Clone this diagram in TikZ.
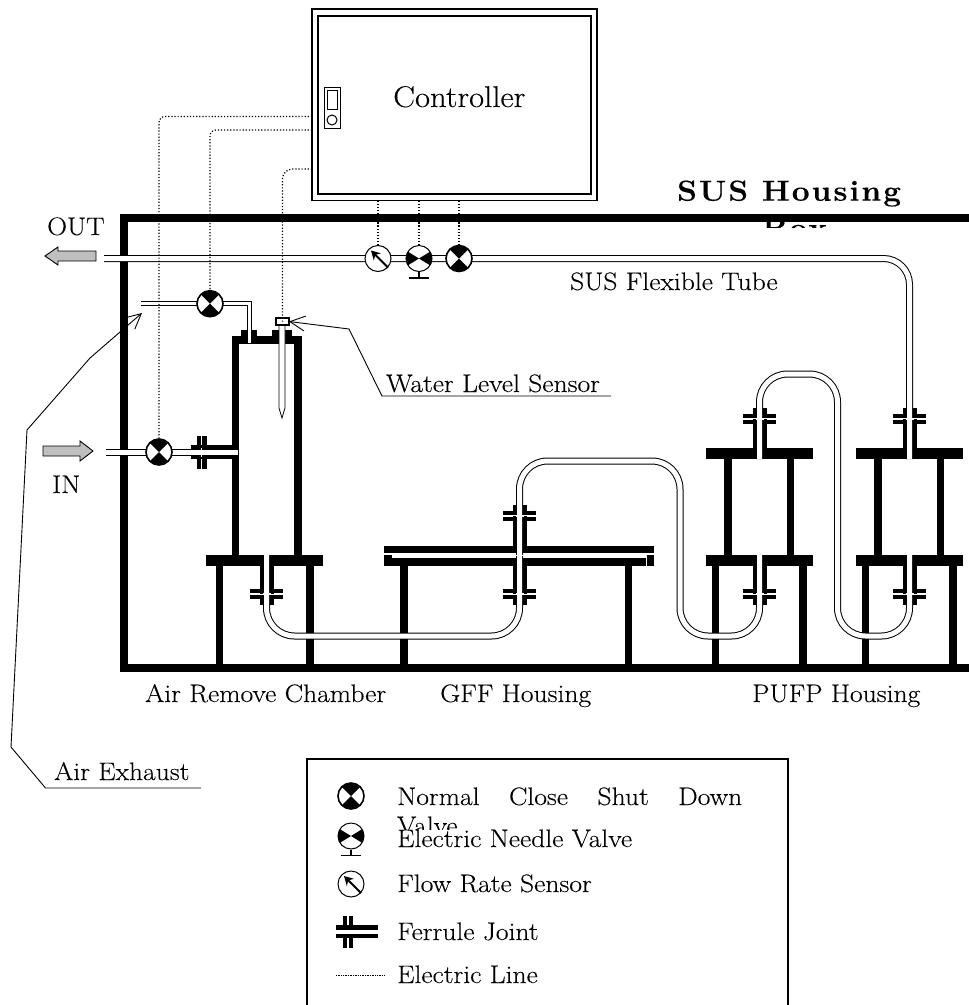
\documentclass[tikz,border=0pt]{standalone}
\usepackage{fontspec}
\setmainfont{Latin Modern Roman}[FakeStretch=1.09,FakeBold=.2]
\usetikzlibrary{arrows.meta}
\tikzset{
  lbl/.style={anchor=base west,inner sep=0pt,font=\fontsize{25.3}{28}\selectfont},
  tube/.style={draw=black,line width=1pt,double=white,double distance=5pt,rounded corners=28pt},
  thintube/.style={draw=black,line width=.9pt,double=white,double distance=3pt},
  wall/.style={line width=8pt},
  elec/.style={line width=1.2pt,dash pattern=on 1.2pt off 1.9pt},
  leader/.style={line width=.9pt,-{Straight Barb[length=15pt,width=15pt]}},
  flowarrow/.style={draw,line width=.9pt,fill=black!25},
  shutvalve/.style={circle,draw,line width=1.6pt,fill=white,minimum size=26pt,inner sep=0pt,
    path picture={\fill[black] (path picture bounding box.north west) -- (path picture bounding box.north east)
      -- (path picture bounding box.south west) -- (path picture bounding box.south east) -- cycle;}},
  needlevalve/.style={circle,draw,line width=1pt,fill=white,minimum size=26pt,inner sep=0pt,
    path picture={\fill[black] (path picture bounding box.center) -- ++(-13,-8) -- ++(0,16) -- cycle;
      \fill[black] (path picture bounding box.center) -- ++(13,-8) -- ++(0,16) -- cycle;}},
  flowsensor/.style={circle,draw,line width=1pt,fill=white,minimum size=26pt,inner sep=0pt},
  ferrule/.pic={
    \fill (-16.5,-5) rectangle (16.5,-.8);
    \fill (-16.5,.8) rectangle (16.5,5);
    \fill (-7,-11) rectangle (7,-.8);
    \fill (-7,.8) rectangle (7,11);
  }
}
\begin{document}
\begin{tikzpicture}[x=1pt,y=-1pt]
  \useasboundingbox (0,0) rectangle (969,1005);
  %Boitier
  \draw[wall] (969,217.5) -- (123.5,217.5) -- (123.5,667.5) -- (969,667.5);
  %Chambre et pieds
  \foreach \a/\b/\c/\d in {232/336/239/555,294/336/302/555,232/336/302/344,241/330/257/336,272/330/292/336,
    206/555/323/566,216/566/223/664,306/566/314/664,
    384/545.7/654/552.7,392/557.7/646/565.7,384/554.7/392/565.7,646.7/554.7/654/565.7,400/566/407.7/664,625/566/631.7/664,
    705.7/555/812.7/566,711.7/566/719.3/664,799.3/566/806.7/664,724/459/731.7/555,786.7/459/794.3/555,705.7/448/812.7/459,
    855.7/555/962.7/566,861.7/566/869/664,949/566/956.7/664,874/459/881.7/555,936.7/459/944/555,855.7/448/962.7/459,
    191/445/232/449,191/455/232/459}
    \fill (\a,\b) rectangle (\c,\d);
  %Raccords
  \foreach \x/\y in {266.5/594,519.5/594,519.5/516,759.5/594,909.5/594,759.5/419,909.5/419}
    \pic at (\x,\y) {ferrule};
  \foreach \x/\y/\z in {266.5/566/594,519.5/566/594,519.5/516/546,759.5/566/594,909.5/566/594,759.5/419/448,909.5/419/448}
    \fill (\x-7,\y) rectangle (\x+7,\z);
  \pic[rotate=90] at (201.5,452) {ferrule};
  %Tubes
  \coordinate (pVOut) at (459,258.5);
  \coordinate (pNOut) at (419,258.5);
  \coordinate (pFOut) at (378,258.5);
  \coordinate (pVIn) at (159,452);
  \coordinate (pVAir) at (210,303.7);
  \coordinate (tOutL) at (104,258.5);
  \coordinate (tInL) at (106,452);
  \coordinate (tInR) at (238,452);
  \coordinate (tAirL) at (141,303.7);
  \coordinate (tAirR) at (249.5,343);
  \draw[tube,rounded corners=26pt] (tOutL) -- (909.5,258.5) -- (909.5,459);
  \draw[tube] (266.5,555) -- (266.5,636) -- (519.5,636) -- (519.5,461) -- (680,461) -- (680,636) -- (759.5,636) -- (759.5,555);
  \draw[tube] (759.5,459) -- (759.5,374) -- (837.5,374) -- (837.5,636) -- (909.5,636) -- (909.5,555);
  \draw[tube] (tInL) -- (tInR);
  \draw[thintube] (tAirL) -- (tAirR |- tAirL) -- (tAirR);
  \foreach \x/\y in {266.5/594,519.5/594,519.5/516,759.5/594,909.5/594,759.5/419,909.5/419,519.5/555.2}
    \draw[white,line width=1.4pt] (\x-4,\y) -- (\x+4,\y);
  \draw[white,line width=1.4pt] (201.5,447.5) -- (201.5,456.5);
  %Sonde de niveau
  \draw[line width=.8pt,fill=white] (279,325) -- (279,408) -- (282,418) -- (285,408) -- (285,325);
  \node[draw,line width=1.2pt,fill=white,minimum width=13pt,minimum height=7pt,inner sep=0pt,outer sep=0pt] (WLS) at (282.5,321.5) {};
  %Vannes
  \node[shutvalve] (VOut) at (pVOut) {};
  \node[needlevalve] (NOut) at (pNOut) {};
  \node[flowsensor] (FOut) at (pFOut) {};
  \node[shutvalve] (VIn) at (pVIn) {};
  \node[shutvalve] (VAir) at (pVAir) {};
  \node[shutvalve] (VLeg) at (351,796) {};
  \node[needlevalve] (NLeg) at (351,836) {};
  \node[flowsensor] (FLeg) at (351,884) {};
  \foreach \n in {NOut,NLeg}
    \draw[line width=1.5pt] (\n.south) -- ++(0,6) ++(-10,0) -- ++(20,0);
  \foreach \n in {FOut,FLeg}
    \draw[line width=2pt,-{Stealth[length=9pt,width=10pt]}] (\n.center) ++(10,9) -- ++(-17,-17);
  %Controleur
  \node[draw,line width=1.5pt,minimum width=285pt,minimum height=191.7pt,inner sep=0pt,outer sep=0pt] (Ctrl) at (454.5,104.8) {};
  \node[draw,line width=2pt,minimum width=273pt,minimum height=178pt,inner sep=0pt,outer sep=0pt] (CtrlIn) at (454.5,105) {};
  \node[draw,line width=1pt,minimum width=16pt,minimum height=41pt,inner sep=0pt] (Sw) at (332,107.5) {};
  \node[draw,line width=1pt,minimum width=10pt,minimum height=19pt,inner sep=0pt] (SwWin) at (332,99.5) {};
  \node[draw,circle,line width=1pt,minimum size=10pt,inner sep=0pt] (SwLed) at (332,120) {};
  \node[lbl,font=\fontsize{30}{32}\selectfont] (CtrlTxt) at (393,107) {Controller};
  %Lignes electriques
  \draw[elec,rounded corners=6pt] (Ctrl.west |- 0,116.5) -- (VIn.north |- 0,116.5) -- (VIn.north);
  \draw[elec,rounded corners=6pt] (Ctrl.west |- 0,130) -- (VAir.north |- 0,130) -- (VAir.north);
  \draw[elec,rounded corners=10pt] (Ctrl.west |- 0,169) -- (WLS.center |- 0,169) -- (WLS.center);
  \foreach \n in {FOut,NOut,VOut}
    \draw[elec] (\n.north |- Ctrl.south) -- (\n.north);
  %Renvois
  \coordinate (tExh) at (142,313);
  \coordinate (tWat) at (611,396);
  \coordinate (tAir) at (201,788);
  \draw[leader] (tWat) -- (382,396) -- (349,329) -- (WLS.east);
  \draw[leader] (tAir) -- (45.5,788) -- (11,747) -- (27,430) -- (90,358) -- (tExh);
  %Fleches
  \draw[flowarrow] (96,251) -- (58,251) -- (58,247) -- (45,256) -- (58,265) -- (58,261) -- (96,261) -- cycle;
  \draw[flowarrow] (43,446) -- (80,446) -- (80,441) -- (93,451) -- (80,461) -- (80,456) -- (43,456) -- cycle;
  %Textes
  \node[lbl] (tOUT) at (47,235) {OUT};
  \node[lbl] (tIN) at (52,493) {IN};
  \node[lbl] (tFlex) at (570,290) {SUS Flexible Tube};
  \node[lbl] (tLevel) at (386,392) {Water Level Sensor};
  \node[lbl] (tExhaust) at (54,780) {Air Exhaust};
  \node[lbl] (tARC) at (145,702) {Air Remove Chamber};
  \node[lbl] (tGFF) at (440,702) {GFF Housing};
  \node[lbl] (tPUFP) at (752,702) {PUFP Housing};
  \node[lbl,font=\fontsize{29}{32}\bfseries\selectfont\addfontfeature{LetterSpace=7}] (tSUS) at (677,200.7) {SUS Housing};
  \begin{scope}
    \clip (700,222) rectangle (880,227);
    \node[lbl,font=\fontsize{29}{32}\bfseries\selectfont\addfontfeature{LetterSpace=7}] (tBox) at (762,238) {Box};
  \end{scope}
  %Legende
  \draw[line width=2pt] (306.5,1005) -- (306.5,759) -- (788,759) -- (788,1005);
  \fill (343,916) rectangle (347,948);
  \fill (349,916) rectangle (353,948);
  \fill (336,925) rectangle (378,938);
  \fill[white] (336,930) rectangle (378,934);
  \coordinate (eLegL) at (336,975);
  \coordinate (eLegR) at (384,975);
  \draw[line width=.8pt,dash pattern=on .8pt off .9pt] (eLegL) -- (eLegR);
  \node[lbl] (tShut) at (397,805) {\makebox[345pt][s]{Normal\hfill Close\hfill Shut\hfill Down}};
  \begin{scope}
    \clip (390,810) rectangle (470,829);
    \node[lbl] (tValve) at (397,834) {Valve};
  \end{scope}
  \node[lbl] (tNeedle) at (397,847) {Electric Needle Valve};
  \node[lbl] (tFlow) at (397,892) {Flow Rate Sensor};
  \node[lbl] (tFerrule) at (397,940) {Ferrule Joint};
  \node[lbl] (tLine) at (397,983) {Electric Line};
\end{tikzpicture}
\end{document}
